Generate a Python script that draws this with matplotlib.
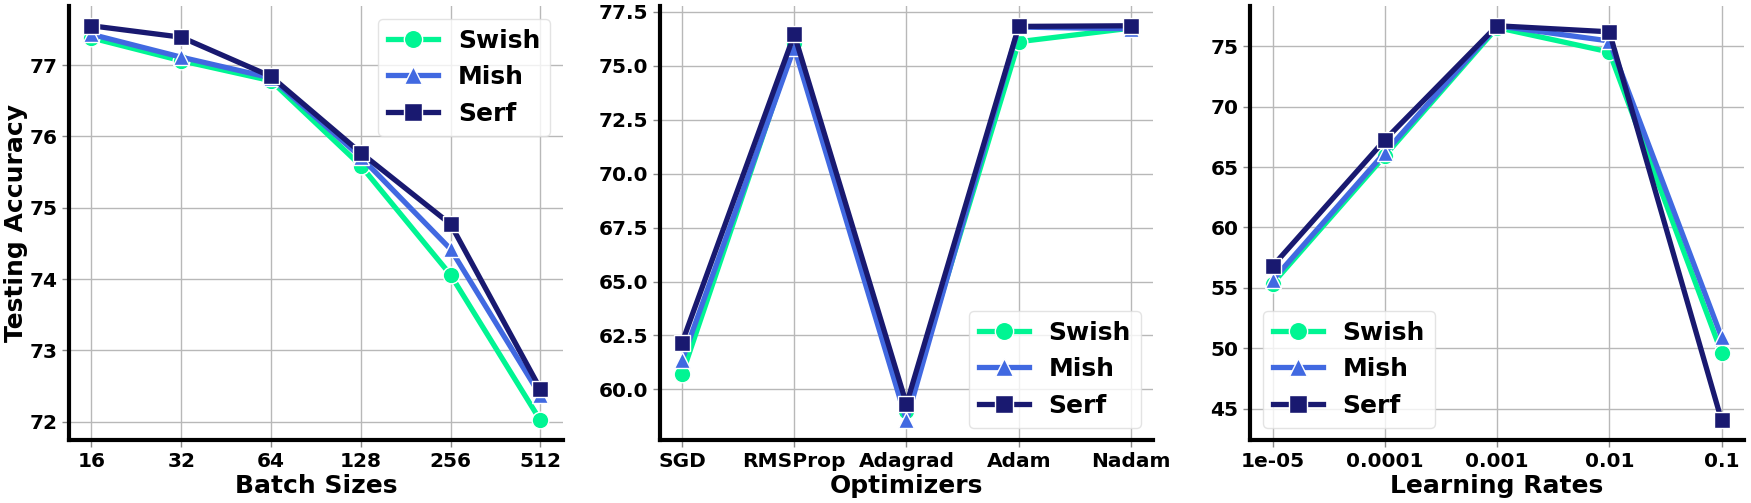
import matplotlib
matplotlib.use('Agg')
import matplotlib.pyplot as plt

# data
batch_sizes = ['16', '32', '64', '128', '256', '512']
batch_swish = [77.38, 77.06, 76.78, 75.59, 74.06, 72.02]
batch_mish = [77.43, 77.11, 76.82, 75.71, 74.42, 72.37]
batch_serf = [77.55, 77.39, 76.84, 75.77, 74.77, 72.46]

optimizers = ['SGD', 'RMSProp', 'Adagrad', 'Adam', 'Nadam']
opt_swish = [60.69, 76.05, 59.00, 76.12, 76.75]
opt_mish = [61.34, 75.85, 58.56, 76.80, 76.72]
opt_serf = [62.16, 76.46, 59.31, 76.83, 76.86]

learning_rates = ['1e-05', '0.0001', '0.001', '0.01', '0.1']
lr_swish = [55.36, 65.94, 76.55, 74.53, 49.64]
lr_mish = [55.64, 66.20, 76.70, 75.44, 50.92]
lr_serf = [56.80, 67.25, 76.70, 76.20, 44.03]

colors = {'Swish': '#00F593', 'Mish': '#4169E1', 'Serf': '#191970'}
markers = {'Swish': 'o', 'Mish': '^', 'Serf': 's'}

panels = [
    (batch_sizes, batch_swish, batch_mish, batch_serf, 'Batch Sizes', 'upper right'),
    (optimizers, opt_swish, opt_mish, opt_serf, 'Optimizers', 'lower right'),
    (learning_rates, lr_swish, lr_mish, lr_serf, 'Learning Rates', 'lower left'),
]

plt.rcParams['font.family'] = 'DejaVu Sans'
plt.rcParams['font.weight'] = 'bold'

fig, axes = plt.subplots(1, 3, figsize=(17.51, 5.03), dpi=100)
fig.subplots_adjust(left=0.0394, right=0.996, top=0.988, bottom=0.125, wspace=0.196)

for ax, (cats, sw, mi, se, xlabel, loc) in zip(axes, panels):
    x = list(range(len(cats)))
    for name, vals in [('Swish', sw), ('Mish', mi), ('Serf', se)]:
        ax.plot(x, vals, color=colors[name], marker=markers[name], lw=3.8,
                markersize=12, markeredgecolor='white', markeredgewidth=1,
                label=name)
    ax.set_xticks(x)
    ax.set_xticklabels(cats)
    ax.set_xlabel(xlabel, fontsize=18, fontweight='bold', labelpad=2)
    ax.grid(True, color='#b8b8b8', lw=1)
    ax.set_axisbelow(True)
    for s in ['top', 'right']:
        ax.spines[s].set_visible(False)
    for s in ['left', 'bottom']:
        ax.spines[s].set_linewidth(3)
        ax.spines[s].set_color('black')
    ax.tick_params(labelsize=14.5, length=5, width=1, color='#888888')
    for lab in ax.get_xticklabels() + ax.get_yticklabels():
        lab.set_fontweight('bold')
    leg = ax.legend(loc=loc, prop={'size': 18, 'weight': 'bold'}, framealpha=0.8,
                    markerscale=1.1)
    leg.get_frame().set_edgecolor('#dddddd')

axes[0].set_ylabel('Testing Accuracy', fontsize=18, fontweight='bold', labelpad=1)

plt.savefig('out.png', dpi=100)
plt.close()
